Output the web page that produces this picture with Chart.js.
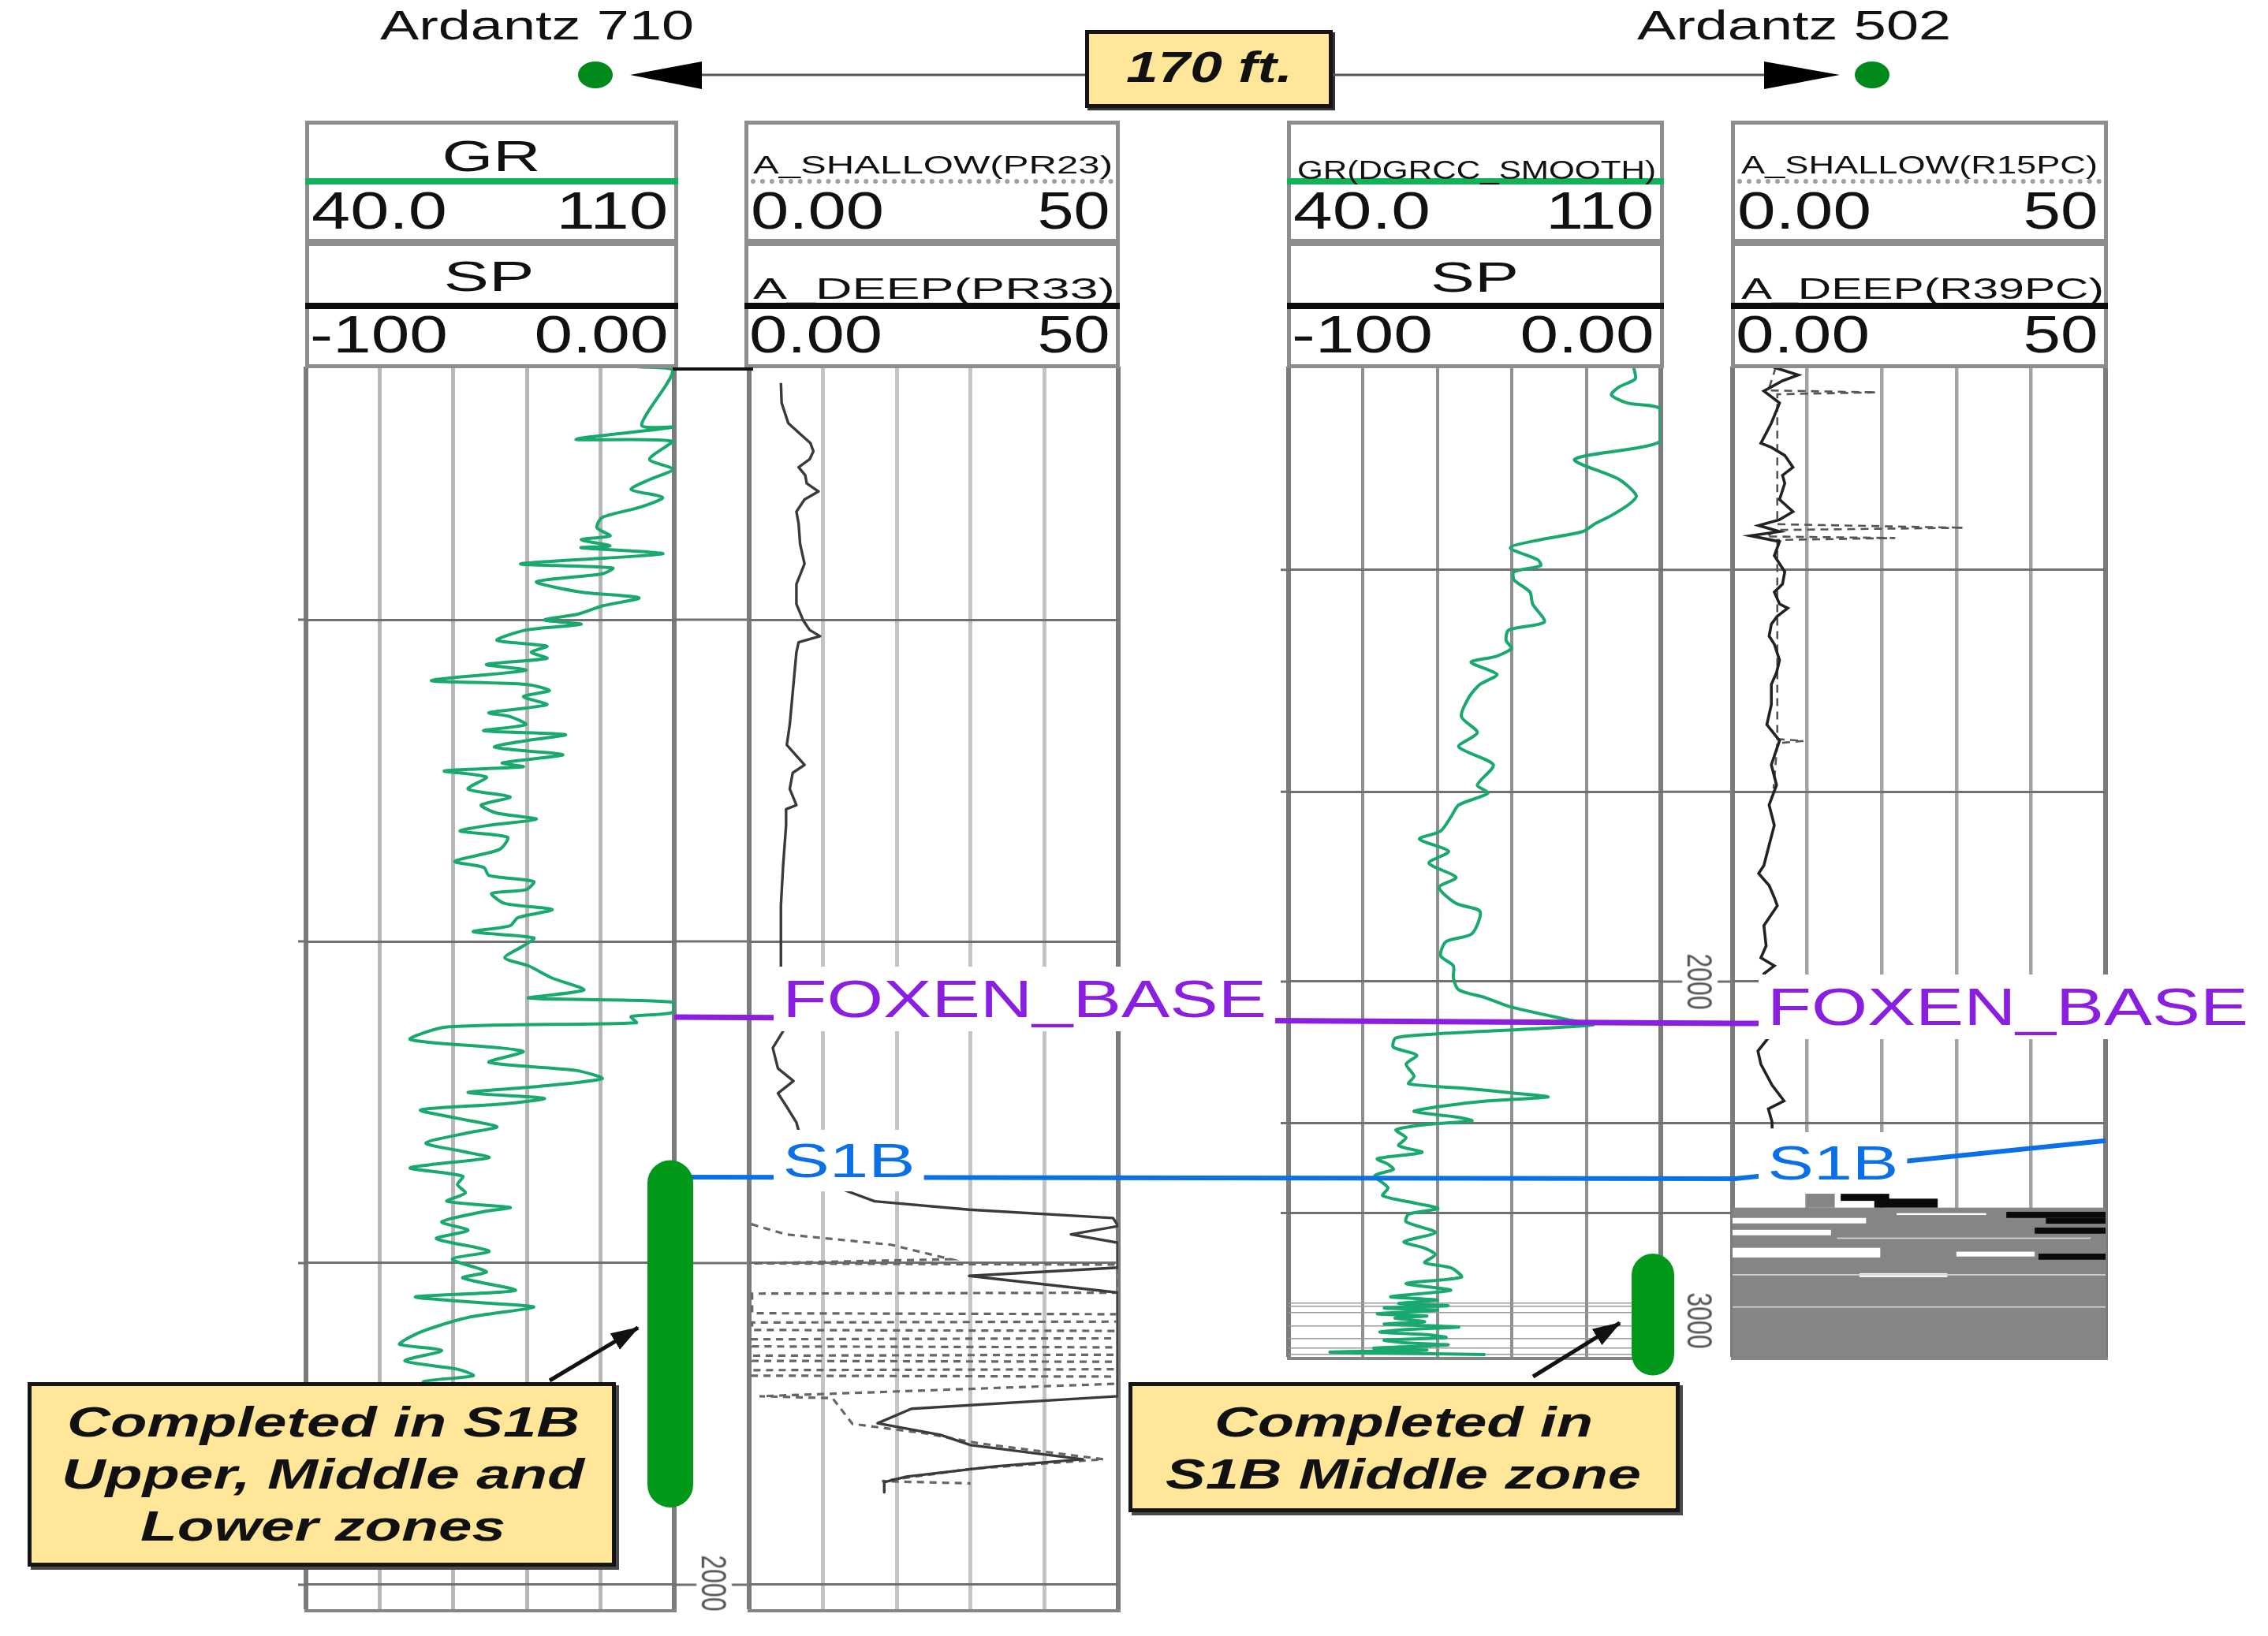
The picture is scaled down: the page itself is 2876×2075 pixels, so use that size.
<!DOCTYPE html>
<html lang="en">
<head>
<meta charset="UTF-8">
<title>Ardantz 710 / Ardantz 502 correlation</title>
<script src="https://cdn.jsdelivr.net/npm/chart.js"></script>
<style>
  html, body { margin: 0; padding: 0; background: #fff; }
  #page { position: relative; width: 2876px; height: 2075px; overflow: hidden; background: #fff; }
  .lbl { position: absolute; white-space: nowrap; color: #111; }
  .track { position: absolute; z-index: 1; }
  .hbox { position: absolute; box-sizing: border-box; border: 5px solid #8d8d8d; z-index: 2; }
  .rule { position: absolute; z-index: 2; }
  .note { position: absolute; box-sizing: border-box; background: #ffe699; border: 5px solid #151515; box-shadow: 4px 4px 0 #4a4a4a; z-index: 10; }
  #overlay { position: absolute; left: 0; top: 0; z-index: 3; }
  #deco { position: absolute; left: 0; top: 0; z-index: 11; }
</style>
</head>
<body>
<div id="page">
  <canvas id="t1" class="track"></canvas>
  <canvas id="t2" class="track"></canvas>
  <canvas id="t3" class="track"></canvas>
  <canvas id="t4" class="track"></canvas>
  <canvas id="overlay" width="2876" height="2075"></canvas>

  <!-- callout boxes -->
  <div class="note" style="left:1376px;top:38px;width:314px;height:99px;box-shadow:3px 3px 0 #333"></div>
  <div class="note" style="left:35px;top:1753px;width:746px;height:234px"></div>
  <div class="note" style="left:1431px;top:1753px;width:699px;height:165px"></div>

  <svg id="deco" width="2876" height="2075">
    <defs>
      <marker id="ah" markerUnits="userSpaceOnUse" markerWidth="36" markerHeight="28" refX="34" refY="14" orient="auto">
        <path d="M0,2 L36,14 L0,26 z" fill="#111"/>
      </marker>
    </defs>
    <line x1="890" y1="95" x2="1376" y2="95" stroke="#555" stroke-width="3"/>
    <line x1="1690" y1="95" x2="2237" y2="95" stroke="#555" stroke-width="3"/>
    <polygon points="799,95 890,78 890,113" fill="#000"/>
    <polygon points="2333,95 2237,78 2237,113" fill="#000"/>
    <ellipse cx="755" cy="95" rx="22" ry="17" fill="#008a1c"/>
    <ellipse cx="2374" cy="95" rx="22" ry="17" fill="#008a1c"/>
    <line x1="697" y1="1751" x2="809" y2="1684" stroke="#111" stroke-width="5" marker-end="url(#ah)"/>
    <line x1="1944" y1="1746" x2="2054" y2="1678" stroke="#111" stroke-width="5" marker-end="url(#ah)"/>
  </svg>
</div>

<script>
// ---------- values ----------
const wells = ['Ardantz 710', 'Ardantz 502'];
const spacing = '170 ft.';

const topNames = ['FOXEN_BASE', 'S1B'];
const tops710 = [1823.5, 1873.3];
const tops502 = [2013.0, 2061.3];
const s1bEast502 = 2049.5;          // S1B pick where it leaves track 4 toward the east
const perf710 = [1868, 1976];       // completed interval, Ardantz 710
const perf502 = [2084.6, 2122.5];   // completed interval, Ardantz 502

const grRange = [40, 110];
const spRange = [-100, 0];
const resRange = [0, 50];
const depthRange710 = [1621.3, 2008.1];
const depthRange502 = [1808.8, 2117.2];
const depthLines710 = [1700, 1800, 1900, 2000];
const depthLines502 = [1872, 1941, 2000, 2044, 2072, 2100, 2101, 2103, 2107, 2111, 2114, 2116];
const depthLabels710 = [[2000, '2000']];
const depthLabels502 = [[2000, '2000'], [2105.4, '3000']];

// GR, Ardantz 710
const gr710Depth = [
  1621.3,1622.6,1639.5,1640.1,1643.9,1644.5,1650.1,1653.2,1656.4,1659.5,
  1662.0,1665.1,1668.2,1671.4,1673.9,1675.1,1677.0,1677.6,1679.5,1682.6,
  1683.9,1685.7,1688.2,1691.4,1693.2,1695.7,1698.2,1700.1,1701.4,1703.2,
  1706.4,1708.2,1710.1,1712.0,1713.9,1715.7,1718.9,1720.1,1722.0,1723.9,
  1726.4,1728.9,1730.1,1732.6,1734.5,1735.7,1737.6,1739.5,1740.7,1742.0,
  1744.5,1745.7,1747.0,1748.9,1752.6,1755.1,1757.6,1760.1,1762.0,1763.9,
  1765.7,1767.6,1771.4,1775.1,1777.0,1779.5,1781.4,1783.9,1785.1,1788.2,
  1790.1,1792.6,1795.1,1797.0,1798.9,1801.4,1805.1,1807.6,1811.4,1815.1,
  1817.6,1818.9,1822.1,1823.4,1825.3,1826.6,1830.5,1833.1,1834.3,1837.6,
  1840.1,1842.7,1845.3,1847.0,1848.8,1850.5,1852.4,1855.0,1857.6,1859.5,
  1862.7,1865.3,1867.2,1869.2,1870.5,1873.0,1875.6,1878.2,1880.8,1882.7,
  1884.0,1887.2,1889.8,1892.4,1896.3,1898.8,1902.7,1904.6,1908.5,1910.5,
  1912.4,1913.7,1916.9,1920.8,1923.4,1925.3,1927.2,1930.4,1933.0,1935.0,
  1936.9,1939.5,1941.4];
const gr710 = [
  103,109.7,103.8,109.7,91.3,109.7,105.3,109.7,105.3,101.8,
  107.8,103.3,96.3,95.3,97.8,92.3,97.8,92.3,107.8,80.8,
  98.3,96.3,83.8,92.3,103.3,96.3,91.8,85.3,92.3,81.8,
  76.3,85.8,82.8,85.8,74.3,81.8,63.8,81.8,86.3,81.3,
  85.8,74.8,78.8,81.8,73.8,89.3,81.8,75.8,81.3,88.8,
  77.3,81.3,66.3,74.3,70.8,78.8,73.3,76.3,83.8,74.8,
  69.3,78.3,76.8,68.3,73.8,74.8,83.3,81.8,75.3,77.8,
  86.8,80.3,78.8,71.8,83.3,81.3,77.8,82.3,86.8,92.8,
  82.3,109.7,109.7,101.8,102.8,66.8,59.8,76.8,81.3,74.8,
  91.3,96.3,82.8,70.8,85.3,77.8,61.8,68.8,76.3,70.8,
  62.8,69.8,74.8,64.8,59.8,69.8,68.8,70.3,66.8,78.8,
  73.8,65.8,70.8,64.8,74.8,67.8,74.3,69.8,79.8,60.8,
  73.8,83.3,70.8,62.8,59.3,57.8,65.8,58.8,68.8,71.8,
  62.3,68,60];

// A_DEEP (solid) and A_SHALLOW (dashed), Ardantz 710
const deep710Depth = [
  1626.4,1632.6,1638.9,1642.6,1645.1,1647.6,1650.1,1652.6,1655.1,1657.6,
  1660.1,1662.6,1666.4,1670.1,1676.4,1682.6,1688.9,1695.1,1700.1,1703.2,
  1705.1,1707.0,1710.1,1720.1,1732.6,1738.9,1745.1,1747.6,1752.6,1757.6,
  1758.9,1763.9,1776.4,1788.9,1801.4,1815.0,1827.9,1833.1,1839.5,1843.4,
  1847.2,1851.1,1856.3,1865.3,1876.9,1880.8,1883.4,1886.0,1888.5,1891.1,
  1893.7,1901.4,1904.0,1909.2,1941.4,1945.3,1949.8,1953.4,1956.6,1961.0,
  1963.2,1966.4,1968.1,1971.3];
const deep710 = [
  4.3,4.4,5.3,7.1,8.3,8.7,8.2,6.7,7.6,7.8,
  9.4,7.5,6.4,6.7,6.9,7.5,6.4,6.4,7.3,8.2,
  9.6,6.7,6.4,6.0,5.5,5.1,7.5,5.9,5.5,6.4,
  5.0,5.0,4.6,4.3,4.3,4.3,4.6,3.2,3.9,6.0,
  3.9,5.0,6.4,7.5,12.4,17.0,29.8,49.3,50,43.6,
  50,50,29.8,50,50,22.0,17.4,25.9,30.0,45.2,
  33.3,21.3,18.3,18.3];
const shallow710Depth = [
  1887.9,1891.1,1894.3,1898.8,1900.1,1900.5,1909.2,1909.5,1915.6,1915.9,
  1918.2,1918.5,1920.8,1921.1,1923.4,1923.7,1925.9,1926.2,1928.5,1928.8,
  1930.4,1930.7,1933.0,1933.3,1935.0,1935.3,1937.5,1941.4,1942.0,1950.0,
  1953.0,1956.0,1961.0,1964.0,1967.8,1968.5];
const shallow710 = [
  0.3,5.0,19.2,27.3,0.4,50,50,0.4,0.4,50,
  50,0.4,0.4,50,50,0.4,0.4,50,50,0.4,
  0.4,50,50,0.4,0.4,50,50,1.4,11.3,14,
  24,31,48,30,18,30];

// GR(DGRCC_SMOOTH), Ardantz 502
const gr502Depth = [
  1809.0,1812.6,1815.1,1817.6,1820.1,1822.0,1832.0,1837.6,1843.9,1848.9,
  1851.4,1855.1,1857.6,1860.1,1862.6,1865.1,1868.9,1870.7,1872.6,1875.1,
  1878.9,1882.6,1888.2,1890.7,1893.9,1896.4,1898.9,1900.7,1904.5,1907.6,
  1911.4,1917.6,1922.6,1927.0,1932.6,1938.9,1941.4,1945.1,1948.9,1953.2,
  1955.7,1959.5,1963.2,1967.6,1970.7,1975.7,1978.2,1985.1,1987.6,1992.0,
  1995.1,1998.9,2002.6,2005.0,2007.7,2011.8,2013.5,2016.3,2017.5,2020.4,
  2022.9,2025.7,2029.4,2031.8,2033.1,2034.7,2035.9,2037.1,2038.8,2040.4,
  2042.1,2043.3,2044.5,2046.1,2048.6,2051.0,2053.1,2055.1,2056.8,2058.4,
  2060.4,2064.1,2066.6,2069.0,2070.6,2072.3,2074.7,2078.0,2080.9,2082.9,
  2084.9,2087.4,2089.0,2091.9,2093.9,2096.0,2098.0,2099.0,2100.1,2100.8,
  2101.5,2102.2,2103.3,2104.0,2104.6,2105.8,2106.5,2107.4,2108.2,2109.0,
  2109.8,2110.7,2111.5,2112.3,2113.0,2114.0,2114.6,2115.2,2115.6,2116.0];
const gr502 = [
  104.9,105.2,102.2,100.7,103.7,110,110,93.8,102.2,105.4,
  104.2,100.7,97.7,95.3,87.4,81.7,86.9,87.4,82.4,82.4,
  85.4,85.9,88.1,81.4,80.9,81.9,79.0,74.3,79.2,76.0,
  74.0,72.5,75.5,72.0,78.5,75.5,77.5,72.0,70.5,68.6,
  64.6,70.1,66.4,71.5,68.3,71.5,76.0,74.5,69.6,68.6,
  71.0,71.0,72.0,77.0,81.4,92.3,97.2,67.6,60.2,59.7,
  64.1,62.1,63.6,62.6,72.5,82.4,88.8,77.5,68.6,63.6,
  71.5,74.5,65.6,60.2,62.1,60.7,65.1,56.7,58.7,59.7,
  56.2,58.7,57.7,64.1,68.1,62.6,62.1,67.6,61.7,65.6,
  67.6,65.6,70.5,72.5,62.1,70.5,59.2,68,60.7,70,
  58,68,56.7,66,60,65.6,58,72.0,62,57.2,
  66,69.6,58,61.7,70,56,66,47.8,62,77.0];

// A_DEEP (solid) and A_SHALLOW (dashed), Ardantz 502
const deep502Depth = [
  1809.0,1810.1,1811.4,1813.2,1816.4,1820.1,1826.4,1832.6,1833.9,1836.4,
  1840.1,1842.6,1845.1,1850.1,1853.9,1856.4,1858.2,1860.1,1861.4,1863.2,
  1867.6,1870.1,1872.6,1876.4,1878.9,1882.6,1883.9,1886.4,1888.9,1892.6,
  1895.1,1900.1,1903.9,1907.6,1913.9,1920.1,1925.1,1932.6,1938.9,1945.1,
  1951.4,1957.6,1963.9,1966.4,1970.1,1973.9,1976.4,1982.6,1988.9,1992.6,
  1995.1,1997.6,2008.0,2017.5,2021.6,2025.7,2032.2,2037.1,2039.6,2043.7,
  2045.7];
const deep502 = [
  5.5,7.0,8.8,6.7,4.2,6.3,5.2,3.8,5.2,7.0,
  8.1,6.7,7.0,6.3,8.1,6.3,3.5,6.3,2.4,6.3,
  5.6,6.3,7.0,6.7,5.6,6.3,7.4,6.0,5.2,4.9,
  5.6,6.3,5.9,5.2,5.2,4.6,6.3,5.2,5.9,4.9,
  5.6,4.9,4.2,3.5,4.9,5.6,6.0,4.2,4.5,3.8,
  5.6,4.2,4.5,4.8,3.4,3.8,5.3,6.9,4.8,5.3,
  5.3];
const shallow502Depth = [1809.0,1816.2,1816.8,1817.4,1820.0,1857.8,1858.9,1859.6,1861.6,1862.1,1862.7,1870,1924.6,1925.2,1925.9,1940];
const shallow502 = [5.8,4.8,19.3,6.0,6.0,6.0,31.0,6.0,4.5,21.8,6.0,6.0,6.0,9.5,6.0,5.5];

// saturated resistivity block at the base of Ardantz 502: [top depth, base depth, from, to]
const grayCells502 = [[2070.3, 2117.2, 0, 50], [2065.4, 2070.3, 9.9, 13.7]];
const blackCells502 = [[2066.0, 2068.2, 14.5, 21], [2067.5, 2070.3, 19, 27.5], [2071.6, 2073.5, 36.7, 50], [2073.5, 2075.3, 42, 50], [2076.5, 2078.4, 40.5, 50], [2084.6, 2086.5, 41, 50]];
const whiteCells502 = [[2073.5, 2075.2, 0, 17.9], [2077.2, 2078.9, 0, 13.2], [2082.8, 2085.8, 0, 19.8], [2084.0, 2085.5, 30, 40.5], [2090.7, 2091.9, 17, 28.8], [2072.0, 2072.6, 22, 34]];
const paleCells502 = [[2091.0, 2091.4, 0, 50], [2101.0, 2101.4, 0, 50], [2079.6, 2080.0, 14, 48]];

// ---------- helpers ----------
const page = document.getElementById('page');
const FONT = '"Liberation Sans", Arial, sans-serif';
const meter = document.createElement('canvas').getContext('2d');
const GREEN_GR = '#19a96e', PURPLE = '#8a1fe0', BLUE = '#0b6fe6';

const pts = (depths, vals) => depths.map((d, i) => ({ x: vals[i], y: d }));

// text, fitted to the width it has in the figure (the figure is stretched sideways)
function put(text, o) {
  const font = (o.it ? 'italic ' : '') + (o.b ? 'bold ' : '') + o.size + 'px ' + FONT;
  meter.font = font;
  const nat = meter.measureText(text).width;
  const k = o.w ? o.w / nat : 1;
  const el = document.createElement('div');
  el.className = 'lbl';
  el.textContent = text;
  el.style.font = font;
  el.style.lineHeight = '1';
  el.style.width = nat + 'px';
  el.style.color = o.color || '#111';
  el.style.zIndex = o.z || 3;
  const pad = o.pad || 0;
  let left = o.x, origin = '0 0';
  if (o.align === 'c') { left = o.x - nat / 2; origin = '50% 0'; }
  if (o.align === 'r') { left = o.x - nat; origin = '100% 0'; }
  el.style.left = (left - pad) + 'px';
  el.style.top = (o.y - 0.8465 * o.size - pad) + 'px';
  if (pad) { el.style.padding = pad + 'px'; el.style.background = '#fff'; }
  el.style.transformOrigin = origin;
  el.style.transform = 'scaleX(' + k + ')';
  page.appendChild(el);
}

function putRot(text, cx, cy, size, stretch) {
  meter.font = size + 'px ' + FONT;
  const nat = meter.measureText(text).width;
  const el = document.createElement('div');
  el.className = 'lbl';
  el.textContent = text;
  el.style.font = size + 'px ' + FONT;
  el.style.lineHeight = '1';
  el.style.color = '#555';
  el.style.background = '#fff';
  el.style.padding = '0 3px';
  el.style.zIndex = 4;
  el.style.left = (cx - nat / 2 - 3) + 'px';
  el.style.top = (cy - size / 2) + 'px';
  el.style.transformOrigin = '50% 50%';
  el.style.transform = 'rotate(90deg) scaleY(' + stretch + ')';
  page.appendChild(el);
}

function div(cls, css) {
  const el = document.createElement('div');
  el.className = cls;
  Object.assign(el.style, css);
  page.appendChild(el);
  return el;
}

// extra drawing inside one track: depth lines across the depth column, saturated blocks
function trackExtras(lines, lineColor, cells) {
  return {
    id: 'trackExtras',
    beforeDatasetsDraw(chart) {
      const { ctx, chartArea: a, scales: { x, y } } = chart;
      ctx.save();
      ctx.strokeStyle = lineColor;
      ctx.lineWidth = 3;
      for (const d of lines) {
        const py = y.getPixelForValue(d);
        ctx.beginPath();
        ctx.moveTo(a.right, py); ctx.lineTo(chart.width, py);
        ctx.moveTo(0, py); ctx.lineTo(a.left, py);
        ctx.stroke();
      }
      for (const [list, color] of cells) {
        ctx.fillStyle = color;
        for (const [d0, d1, v0, v1] of list) {
          const x0 = x.getPixelForValue(v0), x1 = x.getPixelForValue(v1);
          const y0 = y.getPixelForValue(d0), y1 = y.getPixelForValue(d1);
          ctx.fillRect(x0, y0, x1 - x0, y1 - y0);
        }
      }
      ctx.restore();
    }
  };
}

function track(id, box, xr, yr, lines, sets, look, extras) {
  const cv = document.getElementById(id);
  cv.width = box.w; cv.height = box.h;
  cv.style.left = box.x + 'px'; cv.style.top = box.y + 'px';
  return new Chart(cv, {
    type: 'scatter',
    data: { datasets: sets },
    options: {
      responsive: false, animation: false, devicePixelRatio: 1, events: [],
      layout: { padding: box.pad },
      plugins: { legend: { display: false }, tooltip: { enabled: false } },
      elements: { point: { radius: 0, hoverRadius: 0 }, line: { tension: 0, capBezierPoints: true } },
      scales: {
        x: {
          type: 'linear', min: xr[0], max: xr[1],
          ticks: { display: false, stepSize: (xr[1] - xr[0]) / 5 },
          grid: {
            drawTicks: false,
            color: c => (c.index === 0 || c.index === c.scale.ticks.length - 1) ? '#7b7b7b' : look.v,
            lineWidth: c => (c.index === 0 || c.index === c.scale.ticks.length - 1) ? 6 : look.vw
          },
          border: { display: true, color: '#858585', width: 4 }
        },
        y: {
          type: 'linear', reverse: true, min: yr[0], max: yr[1],
          ticks: { display: false },
          afterBuildTicks: s => { s.ticks = lines.map(v => ({ value: v })); },
          grid: {
            drawTicks: false,
            color: c => c.tick && c.tick.value > 2098 ? '#9a9a9a' : '#707070',
            lineWidth: c => c.tick && c.tick.value > 2098 ? 1.5 : 3
          },
          border: { display: false }
        }
      }
    },
    plugins: [extras]
  });
}

// ---------- track charts ----------
const c1 = track('t1', { x: 378, y: 458, w: 572, h: 1592, pad: { left: 10, right: 95, top: 7, bottom: 7 } },
  grRange, depthRange710, depthLines710,
  [{ label: 'GR', data: pts(gr710Depth, gr710), showLine: true, borderColor: GREEN_GR, borderWidth: 4, tension: 0.25, borderJoinStyle: 'round' }],
  { v: '#b7b7b7', vw: 5 }, trackExtras(depthLines710, '#707070', []));

const c2 = track('t2', { x: 940, y: 458, w: 490, h: 1592, pad: { left: 10, right: 12, top: 7, bottom: 7 } },
  resRange, depthRange710, depthLines710,
  [{ label: 'A_DEEP(PR33)', data: pts(deep710Depth, deep710), showLine: true, borderColor: '#3a3a3a', borderWidth: 3.4, borderJoinStyle: 'round' },
   { label: 'A_SHALLOW(PR23)', data: pts(shallow710Depth, shallow710), showLine: true, borderColor: '#666', borderWidth: 3.2, borderDash: [9, 7] }],
  { v: '#c4c4c4', vw: 5 }, trackExtras([], '#707070', []));

const c3 = track('t3', { x: 1624, y: 458, w: 573, h: 1272, pad: { left: 10, right: 91, top: 7, bottom: 7 } },
  grRange, depthRange502, depthLines502,
  [{ label: 'GR(DGRCC_SMOOTH)', data: pts(gr502Depth, gr502), showLine: true, borderColor: GREEN_GR, borderWidth: 4, tension: 0.25, borderJoinStyle: 'round' }],
  { v: '#8f8f8f', vw: 4 }, trackExtras(depthLines502.slice(0, 5), '#707070', []));

const c4 = track('t4', { x: 2187, y: 458, w: 495, h: 1272, pad: { left: 10, right: 12, top: 7, bottom: 7 } },
  resRange, depthRange502, depthLines502,
  [{ label: 'A_DEEP(R39PC)', data: pts(deep502Depth, deep502), showLine: true, borderColor: '#222', borderWidth: 3.6 },
   { label: 'A_SHALLOW(R15PC)', data: pts(shallow502Depth, shallow502), showLine: true, borderColor: '#555', borderWidth: 2.6, borderDash: [10, 7] }],
  { v: '#a3a3a3', vw: 4.5 },
  trackExtras([], '#707070', [[grayCells502, '#858585'], [blackCells502, '#0a0a0a'], [whiteCells502, '#ffffff'], [paleCells502, '#d4d4d4']]));

// ---------- correlation lines and completed intervals ----------
const px = (ch, v) => ch.canvas.offsetLeft + ch.scales.x.getPixelForValue(v);
const py = (ch, d) => ch.canvas.offsetTop + ch.scales.y.getPixelForValue(d);
const ov = document.getElementById('overlay').getContext('2d');

const xWest = px(c1, grRange[1]);
const xEast = px(c4, resRange[0]) + 3;
const topColors = [PURPLE, BLUE];
const topWidths = [7, 6];
topNames.forEach((name, i) => {
  const yA = py(c1, tops710[i]), yB = py(c3, tops502[i]);
  ov.strokeStyle = topColors[i];
  ov.lineWidth = topWidths[i];
  ov.beginPath();
  ov.moveTo(xWest, yA);
  ov.lineTo(xEast, yB);
  if (name === 'S1B') ov.lineTo(px(c4, resRange[1]), py(c4, s1bEast502));
  else ov.lineTo(xEast + 30, yB);
  ov.stroke();
  const size = name === 'S1B' ? 62 : 66;
  put(name, { x: px(c2, 0) + 39, y: yA, size, w: name === 'S1B' ? 168 : 614, color: topColors[i], pad: 8, z: 4 });
  put(name, { x: px(c4, 0) + 41, y: yB + 2, size, w: name === 'S1B' ? 166 : 610, color: topColors[i], pad: 8, z: 4 });
});

ov.strokeStyle = '#02981a';
ov.lineCap = 'round';
ov.lineWidth = 58;
ov.beginPath();
ov.moveTo(xWest - 5, py(c1, perf710[0]) + 29);
ov.lineTo(xWest - 5, py(c1, perf710[1]) - 29);
ov.stroke();
ov.lineWidth = 54;
ov.beginPath();
ov.moveTo(px(c3, grRange[1]) - 10, py(c3, perf502[0]) + 27);
ov.lineTo(px(c3, grRange[1]) - 10, py(c3, perf502[1]) - 27);
ov.stroke();

// depth numbers in the depth columns
depthLabels710.forEach(([d, s]) => putRot(s, (px(c1, grRange[1]) + px(c2, 0)) / 2 + 3, py(c1, d) - 2, 32, 1.4));
depthLabels502.forEach(([d, s]) => putRot(s, (px(c3, grRange[1]) + px(c4, 0)) / 2 + 4, py(c3, d), 32, 1.4));

// ---------- headers ----------
function header(x0, x1, rows) {
  div('hbox', { left: x0 + 'px', top: '153px', width: (x1 - x0) + 'px', height: '159px' });
  div('hbox', { left: x0 + 'px', top: '303px', width: (x1 - x0) + 'px', height: '164px' });
  if (rows.gr) div('rule', { left: x0 + 'px', top: '226px', width: (x1 - x0) + 'px', height: '8px', background: '#12b25c' });
  else div('rule', { left: (x0 + 8) + 'px', top: '227px', width: (x1 - x0 - 16) + 'px', height: '0', borderTop: '6px dotted #a0a0a0' });
  div('rule', { left: x0 + 'px', top: '384px', width: (x1 - x0) + 'px', height: '8px', background: '#0d0d0d' });
  const t = rows.title;
  put(t[0], { x: t[1], y: t[2], size: t[3], w: t[4], align: t[5] });
  put(rows.lo1, { x: x0 + 8, y: 290, size: 66, w: rows.w1[0] });
  put(rows.hi1, { x: x1 - 13, y: 290, size: 66, w: rows.w1[1], align: 'r' });
  const b = rows.title2;
  put(b[0], { x: b[1], y: b[2], size: b[3], w: b[4], align: b[5] });
  put(rows.lo2, { x: x0 + 6, y: 447, size: 66, w: rows.w2[0] });
  put(rows.hi2, { x: x1 - 13, y: 447, size: 66, w: rows.w2[1], align: 'r' });
}
const grLo = grRange[0].toFixed(1), grHi = String(grRange[1]);
const spLo = String(spRange[0]), spHi = spRange[1].toFixed(2);
const resLo = resRange[0].toFixed(2), resHi = String(resRange[1]);

header(387, 860, { gr: true, title: ['GR', 623, 217, 56, 125, 'c'], lo1: grLo, hi1: grHi, w1: [172, 142],
  title2: ['SP', 620, 369, 54, 115, 'c'], lo2: spLo, hi2: spHi, w2: [175, 170] });
header(944, 1420, { gr: false, title: ['A_SHALLOW(PR23)', 955, 220, 32, 456, 'l'], lo1: resLo, hi1: resHi, w1: [169, 92],
  title2: ['A_DEEP(PR33)', 955, 379, 36, 459, 'l'], lo2: resLo, hi2: resHi, w2: [169, 92] });
header(1632, 2110, { gr: true, title: ['GR(DGRCC_SMOOTH)', 1645, 227, 33, 455, 'l'], lo1: grLo, hi1: grHi, w1: [174, 137],
  title2: ['SP', 1870, 370, 54, 112, 'c'], lo2: spLo, hi2: spHi, w2: [179, 170] });
header(2195, 2673, { gr: false, title: ['A_SHALLOW(R15PC)', 2208, 220, 32, 452, 'l'], lo1: resLo, hi1: resHi, w1: [170, 95],
  title2: ['A_DEEP(R39PC)', 2208, 379, 36, 460, 'l'], lo2: resLo, hi2: resHi, w2: [170, 95] });

// short SP stub at the top of the depth column
div('rule', { left: '853px', top: '466px', width: '102px', height: '4px', background: '#111' });

// ---------- titles and callouts ----------
put(wells[0], { x: 482, y: 50, size: 52, w: 398 });
put(wells[1], { x: 2076, y: 50, size: 52, w: 398 });
put(spacing, { x: 1533, y: 105, size: 55, w: 211, b: true, it: true, align: 'c', z: 12 });

const noteA = ['Completed in S1B', 'Upper, Middle and', 'Lower zones'];
const noteAw = [650, 663, 463];
noteA.forEach((s, i) => put(s, { x: 410, y: 1822 + 66 * i, size: 54, w: noteAw[i], b: true, it: true, align: 'c', z: 12 }));
const noteB = ['Completed in', 'S1B Middle zone'];
const noteBw = [480, 603];
noteB.forEach((s, i) => put(s, { x: 1780, y: 1822 + 66 * i, size: 54, w: noteBw[i], b: true, it: true, align: 'c', z: 12 }));
</script>
</body>
</html>
